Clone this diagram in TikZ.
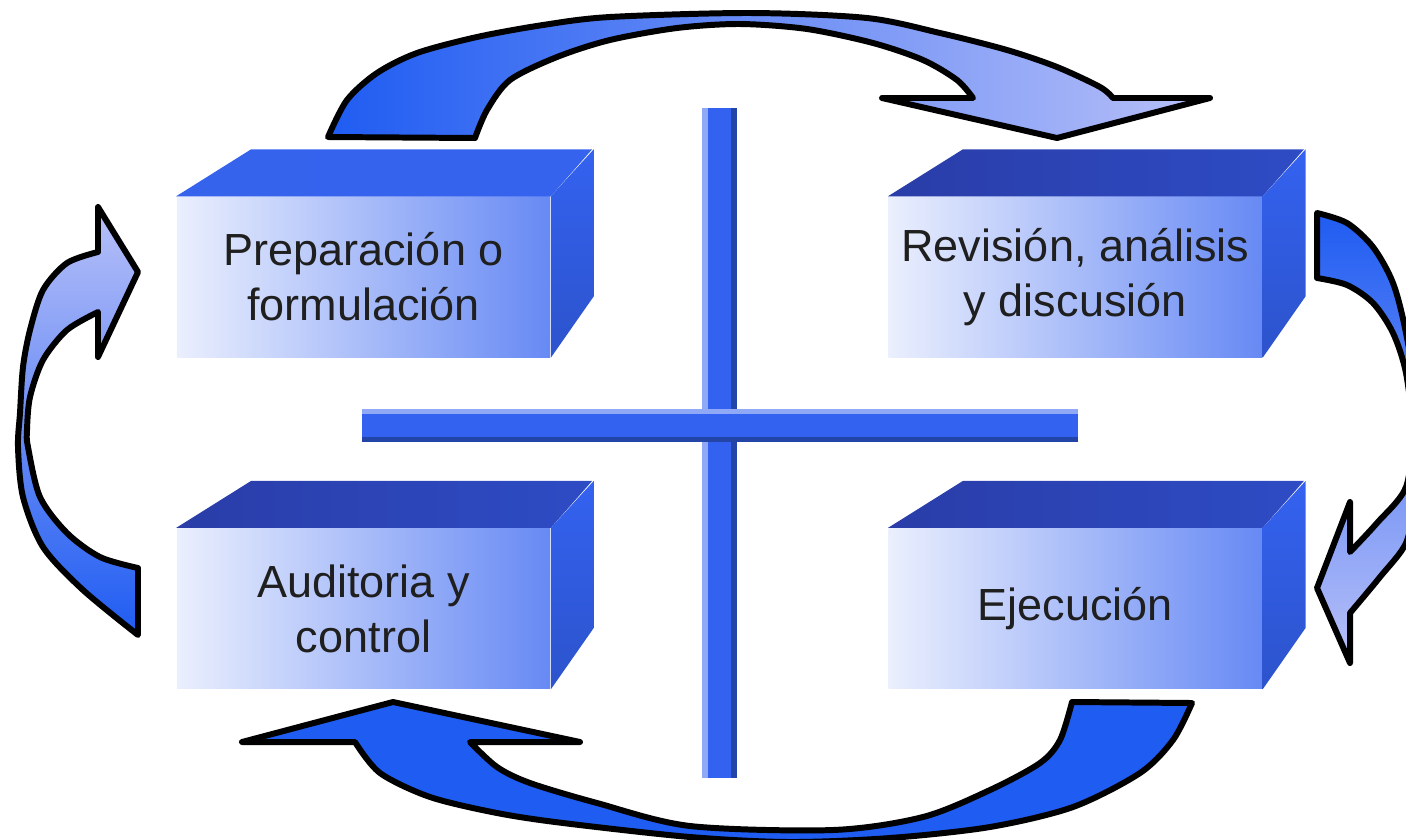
\documentclass[tikz,border=0pt]{standalone}
\usepackage{fontspec}
\setmainfont{Liberation Sans}
\usetikzlibrary{positioning}
\definecolor{azul}{HTML}{1F5CF2}
\definecolor{azulclaro}{HTML}{B8C0F8}
\definecolor{barra}{HTML}{3462F0}
\definecolor{techoa}{HTML}{3563EC}
\definecolor{techob}{HTML}{2A3DA8}
\tikzstyle{caja}=[rectangle, minimum width=3.73cm, minimum height=1.6cm, inner sep=0pt,
  align=center, font=\fontsize{12.8}{15.6}\selectfont, text=black!88,
  left color=white!90!barra, middle color=white!75!barra, right color=white!25!barra]
\tikzstyle{flecha}=[draw=black, line width=1.7pt, line join=round]
\newcommand{\caras}[2]{%
  \shade[left color=#2, right color=#2!60!barra] (#1.north west) -- ++(75,-47) -- ++(341,0) -- (#1.north east) -- cycle;
  \shade[top color=barra, bottom color=barra!85!black] (#1.north east) -- ++(43,-47) -- ++(0,147) -- (#1.south east) -- cycle;}

\begin{document}
\begin{tikzpicture}[x=0.01cm, y=-0.01cm]
    \useasboundingbox (0,0) rectangle (1406,839);
    \clip (0,0) rectangle (1406,839);
    % las cuatro cajas
    \node[caja] (prep) at (363.5,277) {Preparación o\\formulación};
    \node[caja, right=3.37cm of prep] (rev) {Revisión, análisis\\y discusión};
    \node[caja, below=1.7cm of prep] (audit) {Auditoria y\\control};
    \node[caja, below=1.7cm of rev] (ejec) {Ejecución};
    \caras{prep}{techoa}
    \caras{rev}{techob}
    \caras{audit}{techob}
    \caras{ejec}{techob}
    % la cruz
    \fill[barra] (702,108) rectangle (737,778);
    \fill[barra!55!white] (702,108) rectangle (708,778);
    \fill[barra!70!black] (731,108) rectangle (737,778);
    \fill[barra] (362,409) rectangle (1078,442);
    \fill[barra!55!white] (362,409) rectangle (1078,414);
    \fill[barra!70!black] (362,437) rectangle (1078,442);
    % flechas
    \shadedraw[flecha, left color=azul, middle color=azul!55!azulclaro, right color=azulclaro]
      plot[smooth] coordinates {(328,137) (347,100) (377,73) (417,53) (477,37) (543,25) (610,17) (750,13) (867,18) (940,33) (1007,50) (1057,67) (1100,87) (1113,98)}
      -- (1210,98) -- (1057,138) -- (882,98) -- (973,98)
      -- plot[smooth] coordinates {(973,98) (957,80) (923,60) (873,43) (807,29) (740,24) (677,28) (610,40) (557,57) (510,80) (487,110) (475,138)} -- cycle;
    \shadedraw[flecha, top color=azul, bottom color=azulclaro]
      plot[smooth] coordinates {(1317,213) (1347,223) (1373,247) (1393,283) (1406,333) (1420,420) (1414,500) (1406,543) (1380,577) (1350,613)}
      -- (1350,663) -- (1317,588) -- (1350,502) -- (1350,552)
      -- plot[smooth] coordinates {(1350,552) (1377,523) (1406,487) (1412,430) (1406,373) (1393,333) (1373,303) (1347,285) (1317,278)} -- cycle;
    \filldraw[flecha, fill=azul]
      plot[smooth] coordinates {(1192,703) (1173,740) (1140,773) (1073,807) (990,827) (890,838) (790,842) (690,837) (563,823) (497,813) (430,797) (380,773) (355,742)}
      -- (242,742) -- (393,702) -- (580,742) -- (470,742)
      -- plot[smooth] coordinates {(470,742) (497,767) (530,783) (597,803) (690,826) (833,830) (923,817) (990,790) (1040,763) (1060,740) (1072,702)} -- cycle;
    \shadedraw[flecha, top color=azulclaro, bottom color=azul]
      plot[smooth] coordinates {(138,635) (83,590) (43,547) (23,497) (18,447) (20,413) (23,367) (30,330) (43,290) (67,263) (98,252)}
      -- (98,207) -- (138,272) -- (98,357) -- (98,312)
      -- plot[smooth] coordinates {(98,312) (67,330) (43,360) (30,397) (27,430) (28,447) (40,497) (67,533) (100,557) (138,568)} -- cycle;
\end{tikzpicture}
\end{document}
